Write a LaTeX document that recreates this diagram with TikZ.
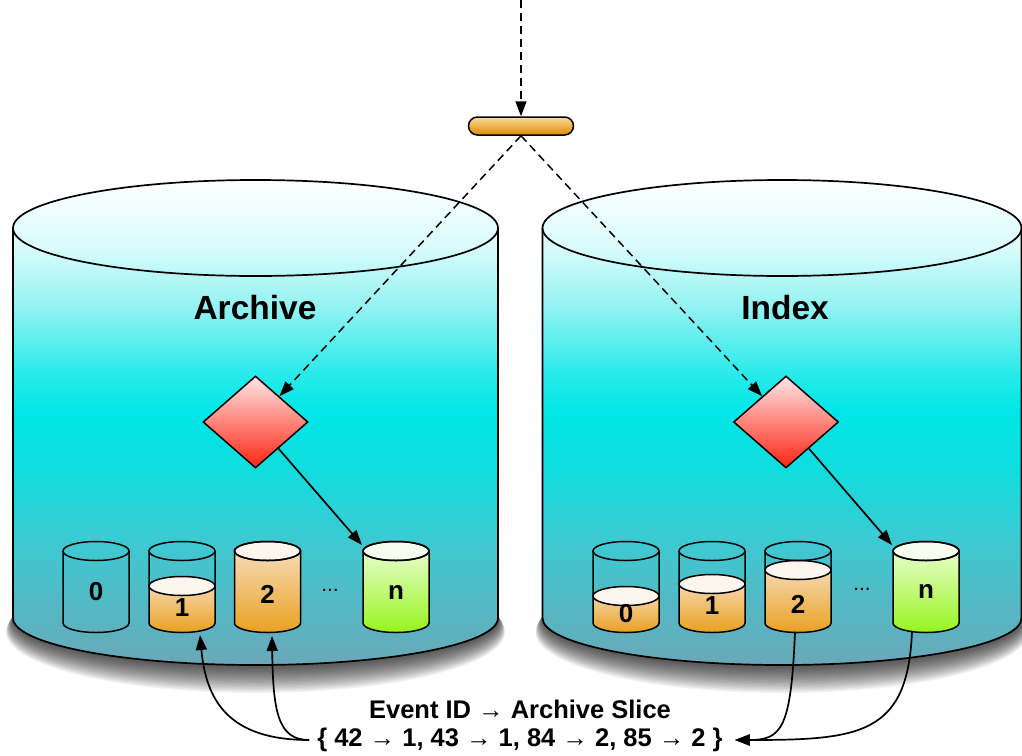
\documentclass[tikz,border=0pt]{standalone}
\usepackage{fontspec}
\setmainfont{Liberation Sans}
\usetikzlibrary{shapes.geometric,arrows.meta}

% tank body colours, from the lit top down to the shaded base
\definecolor{tk1}{HTML}{D8FCFC}
\definecolor{tk2}{HTML}{94F2F2}
\definecolor{tk3}{HTML}{28EAEA}
\definecolor{tk4}{HTML}{00E6E6}
\definecolor{tk5}{HTML}{12DCDE}
\definecolor{tk6}{HTML}{3CCAD2}
\definecolor{tk7}{HTML}{6AA8B8}
\definecolor{ortop}{HTML}{F8E2C6}
\definecolor{orbot}{HTML}{E9A020}
\definecolor{orsurf}{HTML}{FDF6EE}
\definecolor{grtop}{HTML}{F0FFE0}
\definecolor{grbot}{HTML}{96F51C}
\definecolor{grsurf}{HTML}{F6FFEE}
\definecolor{bartop}{HTML}{FBDC96}
\definecolor{barbot}{HTML}{DC8A00}
\definecolor{gatetop}{HTML}{FFE6E6}
\definecolor{gatebot}{HTML}{FF2412}

\pgfdeclareverticalshading{tankbody}{100bp}{%
  color(0bp)=(tk7); color(25bp)=(tk7); color(38bp)=(tk6); color(45bp)=(tk5);
  color(51bp)=(tk4); color(55bp)=(tk3); color(62bp)=(tk2); color(68bp)=(tk1);
  color(75bp)=(white); color(100bp)=(white)}

\tikzset{
  >={Triangle[length=15pt,width=11pt]},
  tankline/.style={line width=1.7pt},
  sliceline/.style={line width=1.5pt},
  conn/.style={line width=1.7pt},
  dashline/.style={line width=1.5pt, dash pattern=on 8pt off 5pt},
  gate/.style={diamond, draw, line width=1.5pt, inner sep=0pt,
    minimum width=105pt, minimum height=92pt,
    top color=gatetop, bottom color=gatebot},
  inletbar/.style={draw, line width=1.5pt, rounded corners=9pt,
    minimum width=105pt, minimum height=18pt, inner sep=0pt,
    top color=bartop, bottom color=barbot},
  tanklabel/.style={font=\fontsize{33.5}{40}\selectfont\bfseries},
  slicelabel/.style={font=\fontsize{26}{30}\selectfont\bfseries},
  maplabel/.style={font=\fontsize{25.5}{30}\selectfont\bfseries, inner sep=0pt},
  dotslabel/.style={font=\fontsize{21}{24}\selectfont},
}

% large storage tank: #1 centre x, #2 half width
\newcommand\bigtank[2]{%
  \foreach \k in {1,...,20}{%
    \fill[black, opacity=0.05] (#1, 618+\k*0.7)
      ellipse [x radius=#2pt+\k*0.35pt, y radius=47pt+\k*0.7pt];
  }
  \fill[shading=tankbody] (#1-#2,228) -- (#1-#2,618)
    arc[start angle=180, end angle=360, x radius=#2pt, y radius=47pt]
    -- (#1+#2,228)
    arc[start angle=0, end angle=180, x radius=#2pt, y radius=48pt] -- cycle;
  \draw[tankline] (#1-#2,228) -- (#1-#2,618)
    arc[start angle=180, end angle=360, x radius=#2pt, y radius=47pt]
    -- (#1+#2,228);
  \draw[tankline] (#1,228) ellipse [x radius=#2pt, y radius=48pt];
}

% contents of a slice: #1 centre x, #2 level, #3 body top colour,
% #4 body bottom colour, #5 surface colour
\newcommand\contents[5]{%
  \fill[top color=#3, bottom color=#4] (#1-33,#2) -- (#1-33,623)
    arc[start angle=180, end angle=360, x radius=33pt, y radius=9.5pt]
    -- (#1+33,#2)
    arc[start angle=0, end angle=180, x radius=33pt, y radius=9.5pt] -- cycle;
  \draw[sliceline, fill=#5] (#1,#2) ellipse [x radius=33pt, y radius=9.5pt];
}

% outline of a slice: #1 centre x
\newcommand\sliceoutline[1]{%
  \draw[sliceline] (#1-33,551) -- (#1-33,623)
    arc[start angle=180, end angle=360, x radius=33pt, y radius=9.5pt]
    -- (#1+33,551);
  \draw[sliceline] (#1,551) ellipse [x radius=33pt, y radius=9.5pt];
}

\begin{document}
\begin{tikzpicture}[x=1pt, y=-1pt]
  \useasboundingbox (0,0) rectangle (1022,755);

  % the two stores
  \bigtank{255.5}{242.5}
  \bigtank{782}{239.5}

  % archive slices
  \contents{182}{586}{ortop}{orbot}{orsurf}
  \contents{267.5}{551}{ortop}{orbot}{orsurf}
  \contents{396}{551}{grtop}{grbot}{grsurf}
  \sliceoutline{96}
  \sliceoutline{182}
  \sliceoutline{267.5}
  \sliceoutline{396}

  % index slices
  \contents{626}{596}{ortop}{orbot}{orsurf}
  \contents{712}{584}{ortop}{orbot}{orsurf}
  \contents{798}{570}{ortop}{orbot}{orsurf}
  \contents{926}{551}{grtop}{grbot}{grsurf}
  \sliceoutline{626}
  \sliceoutline{712}
  \sliceoutline{798}
  \sliceoutline{926}

  % labels
  \node[tanklabel] (archive) at (255,308) {Archive};
  \node[tanklabel] (index) at (785,308) {Index};

  \node[slicelabel] (arc0) at (96,592) {0};
  \node[slicelabel] (arc1) at (182,608) {1};
  \node[slicelabel] (arc2) at (267.5,594) {2};
  \node[slicelabel] (arcn) at (396,592) {n};
  \node[dotslabel] (arcdots) at (330,590) {...};

  \node[slicelabel] (idx0) at (626,614) {0};
  \node[slicelabel] (idx1) at (712,606) {1};
  \node[slicelabel] (idx2) at (798,604) {2};
  \node[slicelabel] (idxn) at (926,591) {n};
  \node[dotslabel] (idxdots) at (862,589) {...};

  % connector ends on the slices
  \coordinate (arc1b) at (200,635);
  \coordinate (arc2b) at (272,636);
  \coordinate (arcnt) at (362,545);
  \coordinate (idx2b) at (795,632);
  \coordinate (idxnb) at (912,631);
  \coordinate (idxnt) at (892,545);

  % routing
  \coordinate (src) at (521,0);
  \node[inletbar] (inlet) at (521,126) {};
  \node[gate] (gateA) at (255.5,422) {};
  \node[gate] (gateI) at (786,422) {};

  \draw[dashline,->] (src) -- (inlet.north);
  \draw[dashline,->] (inlet.south) -- (gateA);
  \draw[dashline,->] (inlet.south) -- (gateI);
  \draw[conn,->] (gateA) -- (arcnt);
  \draw[conn,->] (gateI) -- (idxnt);

  % event id map
  \node[maplabel] (maptitle) at (520,709) {Event ID → Archive Slice};
  \node[maplabel] (map) at (520,740) {\{ 42 → 1, 43 → 1, 84 → 2, 85 → 2 \}};
  \coordinate (mapL) at ([xshift=-8pt]map.west);
  \coordinate (mapR) at ([xshift=12pt]map.east);

  \draw[conn,->] (mapL) .. controls (228,740) and (206,700) .. (arc1b);
  \draw[conn,->] (mapL) .. controls (278,740) and (273,712) .. (arc2b);
  \draw[conn,->] (idx2b) .. controls (791,728) and (782,740) .. (mapR);
  \draw[conn,->] (idxnb) .. controls (908,735) and (860,740) .. (mapR);
\end{tikzpicture}
\end{document}
